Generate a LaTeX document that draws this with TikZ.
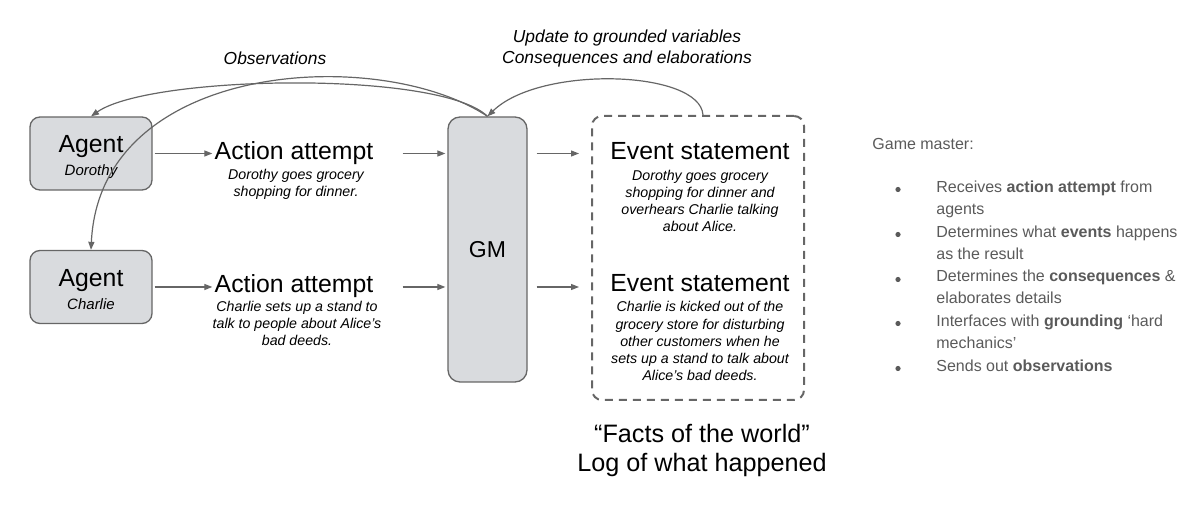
\documentclass[tikz,border=0pt]{standalone}
\usepackage{fontspec}
\setmainfont{Liberation Sans}
\usetikzlibrary{arrows.meta}

\definecolor{boxgray}{HTML}{D9DBDE}
\definecolor{linegray}{HTML}{666666}
\definecolor{notegray}{HTML}{5A5A5A}

\tikzset{
  agentbox/.style={draw=linegray, fill=boxgray, line width=0.65pt, rounded corners=5pt,
    minimum width=61pt, text height=29.5pt, text depth=7pt, align=center, inner sep=0pt,
    font=\fontsize{12.4}{10}\selectfont},
  gmbox/.style={draw=linegray, fill=boxgray, line width=0.65pt, rounded corners=6pt,
    minimum width=39.5pt, minimum height=132.5pt, inner sep=0pt,
    font=\fontsize{11.5}{13}\selectfont},
  logbox/.style={draw=linegray, line width=1pt, dash pattern=on 4pt off 3pt,
    rounded corners=5pt, minimum width=106pt, minimum height=142pt, inner sep=0pt},
  flow/.style={draw=linegray, line width=0.6pt, -{Triangle[length=4pt,width=3pt]}},
  heading/.style={anchor=base, inner sep=0pt, font=\fontsize{12.4}{14}\selectfont},
  detail/.style={anchor=base, inner sep=0pt, align=center,
    font=\fontsize{7.1}{8.65}\selectfont\itshape},
  looplabel/.style={anchor=base, inner sep=0pt, align=center,
    font=\fontsize{8.7}{10.5}\selectfont\itshape},
  worldlabel/.style={anchor=base, inner sep=0pt, align=center,
    font=\fontsize{12.6}{14.5}\selectfont},
  note/.style={anchor=base west, inner sep=0pt, align=left, text=notegray,
    font=\fontsize{8}{11.2}\selectfont},
  dot/.style={circle, fill=notegray, inner sep=0pt, minimum size=2.6pt},
}

\newcommand{\agentname}[1]{{\fontsize{7.5}{9}\selectfont\itshape #1}}

\begin{document}
\begin{tikzpicture}[x=0.5pt,y=-0.5pt]
\useasboundingbox (0,0) rectangle (1200,512);

% agents and their attempts
\node[agentbox] (dorothy) at (91,153.5) {Agent\\[1.5pt]\agentname{Dorothy}};
\node[agentbox] (charlie) at (91,287) {Agent\\[1.5pt]\agentname{Charlie}};
\node[heading] (act1) at (294,160) {Action attempt};
\node[detail] (act1txt) at (296,197) {Dorothy goes grocery\\shopping for dinner.};
\node[heading] (act2) at (294,293) {Action attempt};
\node[detail] (act2txt) at (297,346) {Charlie sets up a stand to\\talk to people about Alice's\\bad deeds.};

% game master
\node[gmbox] (gm) at (487.5,249.5) {GM};

% log of events
\node[logbox] (world) at (698,258) {};
\node[heading] (ev1) at (700,160) {Event statement};
\node[detail] (ev1txt) at (700,232) {Dorothy goes grocery\\shopping for dinner and\\overhears Charlie talking\\about Alice.};
\node[heading] (ev2) at (700,292) {Event statement};
\node[detail] (ev2txt) at (700,381) {Charlie is kicked out of the\\grocery store for disturbing\\other customers when he\\sets up a stand to talk about\\Alice's bad deeds.};
\node[worldlabel] (facts) at (702,472) {“Facts of the world”\\Log of what happened};

% loop labels
\node[looplabel] (obslabel) at (275,65) {Observations};
\node[looplabel] (updlabel) at (627,64) {Update to grounded variables\\Consequences and elaborations};

% straight arrows
\draw[flow, shorten <=1pt, shorten >=1pt] (dorothy.east) -- (dorothy.east -| act1.west);
\draw[flow, shorten <=14.5pt, shorten >=1pt] (act1.east |- dorothy.east) -- (gm.west |- dorothy.east);
\draw[flow, shorten <=4.5pt, shorten >=6pt] (gm.east |- dorothy.east) -- (world.west |- dorothy.east);
\draw[flow, shorten <=1pt, shorten >=1pt] (charlie.east) -- (charlie.east -| act2.west);
\draw[flow, shorten <=14.5pt, shorten >=1pt] (act2.east |- charlie.east) -- (gm.west |- charlie.east);
\draw[flow, shorten <=4.5pt, shorten >=6pt] (gm.east |- charlie.east) -- (world.west |- charlie.east);

% feedback curves
\draw[flow] (gm.north) .. controls (440,70) and (150,75) .. (dorothy.north);
\draw[flow] (gm.north) .. controls (380,45) and (100,60) .. (charlie.north);
\draw[flow] ([xshift=2.5pt]world.north) .. controls (700,70) and (540,65) .. (gm.north);

% game master notes
\node[note] (gmtitle) at (872,150) {Game master:};
\foreach \y/\ylast/\txt in {193/215/{Receives \textbf{action attempt} from\\agents},
                     238/260/{Determines what \textbf{events} happens\\as the result},
                     283/304/{Determines the \textbf{consequences} \&\\elaborates details},
                     327/349/{Interfaces with \textbf{grounding} ‘hard\\mechanics’},
                     372/372/{Sends out \textbf{observations}}} {
  \node[dot] (dot\y) at (898,\y-3.5) {};
  \node[note] (item\y) at (936,\ylast) {\txt};
}
\end{tikzpicture}
\end{document}
